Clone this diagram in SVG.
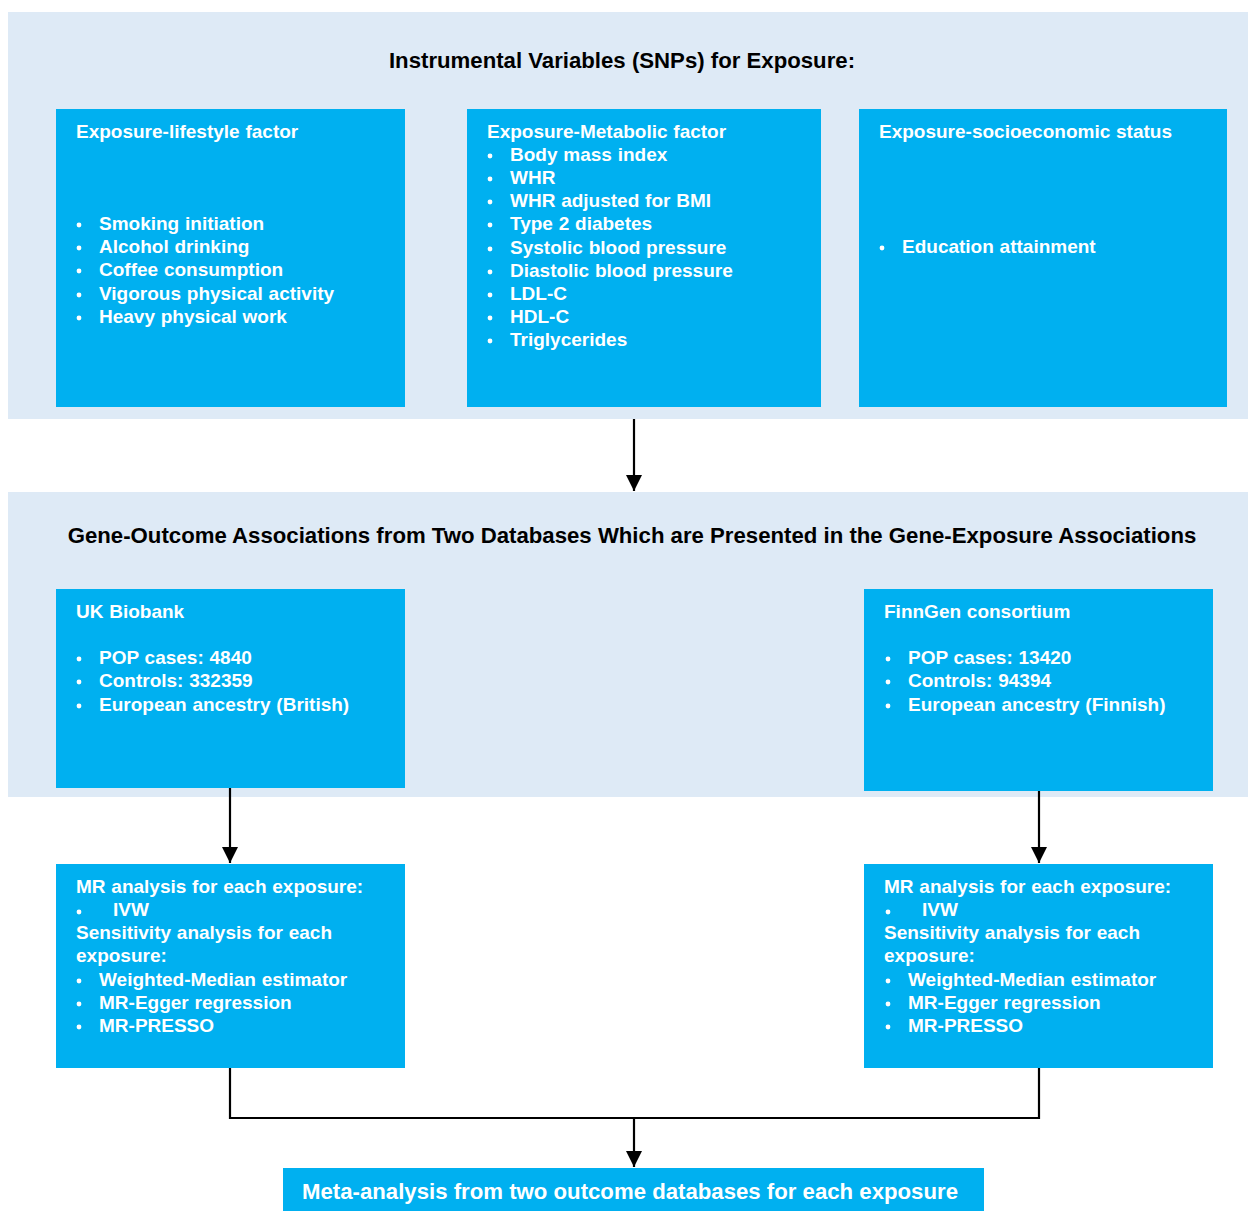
<svg xmlns="http://www.w3.org/2000/svg" width="1248" height="1211" viewBox="0 0 1248 1211">
<defs>
<style>
.panel{fill:#DEEAF6}
.box{fill:#00B0F0}
.title{font-family:"Liberation Sans",Arial,sans-serif;font-weight:bold;font-size:22.2px;fill:#000}
.t{font-family:"Liberation Sans",Arial,sans-serif;font-weight:bold;font-size:19px;fill:#fff;word-spacing:0.5px}
.meta{font-family:"Liberation Sans",Arial,sans-serif;font-weight:bold;font-size:22.2px;fill:#fff}
.b{fill:#fff}
.conn{stroke:#000;stroke-width:2.2;fill:none}
</style>
<marker id="ah" markerWidth="16" markerHeight="16" refX="16" refY="8" orient="auto" markerUnits="userSpaceOnUse">
<path d="M0,0 L16,8 L0,16 Z" fill="#000"/>
</marker>
</defs>
<rect width="1248" height="1211" fill="#fff"/>
<g id="panel-exposure">
<rect class="panel" x="8" y="12" width="1240" height="407"/>
<text class="title" x="622" y="68" text-anchor="middle">Instrumental Variables (SNPs) for Exposure:</text>
</g>
<g id="panel-outcome">
<rect class="panel" x="8" y="492" width="1240" height="305"/>
<text class="title" x="632" y="543" text-anchor="middle">Gene-Outcome Associations from Two Databases Which are Presented in the Gene-Exposure Associations</text>
</g>
<g id="node-lifestyle">
<rect class="box" x="56" y="109" width="349" height="298"/>
<text class="t" x="76" y="138">Exposure-lifestyle factor</text>
<g class="b"><circle cx="79" cy="225" r="2.4"/><circle cx="79" cy="248" r="2.4"/><circle cx="79" cy="271" r="2.4"/><circle cx="79" cy="295" r="2.4"/><circle cx="79" cy="318" r="2.4"/></g>
<text class="t" x="99" y="230">Smoking initiation</text>
<text class="t" x="99" y="253">Alcohol drinking</text>
<text class="t" x="99" y="276">Coffee consumption</text>
<text class="t" x="99" y="300">Vigorous physical activity</text>
<text class="t" x="99" y="323">Heavy physical work</text>
</g>
<g id="node-metabolic">
<rect class="box" x="467" y="109" width="354" height="298"/>
<text class="t" x="487" y="138">Exposure-Metabolic factor</text>
<g class="b"><circle cx="490" cy="156" r="2.4"/><circle cx="490" cy="179" r="2.4"/><circle cx="490" cy="202" r="2.4"/><circle cx="490" cy="225" r="2.4"/><circle cx="490" cy="249" r="2.4"/><circle cx="490" cy="272" r="2.4"/><circle cx="490" cy="295" r="2.4"/><circle cx="490" cy="318" r="2.4"/><circle cx="490" cy="341" r="2.4"/></g>
<text class="t" x="510" y="161">Body mass index</text>
<text class="t" x="510" y="184">WHR</text>
<text class="t" x="510" y="207">WHR adjusted for BMI</text>
<text class="t" x="510" y="230">Type 2 diabetes</text>
<text class="t" x="510" y="254">Systolic blood pressure</text>
<text class="t" x="510" y="277">Diastolic blood pressure</text>
<text class="t" x="510" y="300">LDL-C</text>
<text class="t" x="510" y="323">HDL-C</text>
<text class="t" x="510" y="346">Triglycerides</text>
</g>
<g id="node-socioeconomic">
<rect class="box" x="859" y="109" width="368" height="298"/>
<text class="t" x="879" y="138">Exposure-socioeconomic status</text>
<circle class="b" cx="882" cy="248" r="2.4"/>
<text class="t" x="902" y="253">Education attainment</text>
</g>
<g id="node-ukbiobank">
<rect class="box" x="56" y="589" width="349" height="199"/>
<text class="t" x="76" y="618">UK Biobank</text>
<g class="b"><circle cx="79" cy="659" r="2.4"/><circle cx="79" cy="682" r="2.4"/><circle cx="79" cy="706" r="2.4"/></g>
<text class="t" x="99" y="664">POP cases: 4840</text>
<text class="t" x="99" y="687">Controls: 332359</text>
<text class="t" x="99" y="711">European ancestry (British)</text>
</g>
<g id="node-finngen">
<rect class="box" x="864" y="589" width="349" height="202"/>
<text class="t" x="884" y="618">FinnGen consortium</text>
<g class="b"><circle cx="888" cy="659" r="2.4"/><circle cx="888" cy="682" r="2.4"/><circle cx="888" cy="706" r="2.4"/></g>
<text class="t" x="908" y="664">POP cases: 13420</text>
<text class="t" x="908" y="687">Controls: 94394</text>
<text class="t" x="908" y="711">European ancestry (Finnish)</text>
</g>
<g id="node-mr-uk">
<rect class="box" x="56" y="864" width="349" height="204"/>
<text class="t" x="76" y="893">MR analysis for each exposure:</text>
<g class="b"><circle cx="79" cy="912" r="2.4"/><circle cx="79" cy="981" r="2.4"/><circle cx="79" cy="1004" r="2.4"/><circle cx="79" cy="1027" r="2.4"/></g>
<text class="t" x="113" y="916">IVW</text>
<text class="t" x="76" y="939">Sensitivity analysis for each</text>
<text class="t" x="76" y="962">exposure:</text>
<text class="t" x="99" y="986">Weighted-Median estimator</text>
<text class="t" x="99" y="1009">MR-Egger regression</text>
<text class="t" x="99" y="1032">MR-PRESSO</text>
</g>
<g id="node-mr-finn">
<rect class="box" x="864" y="864" width="349" height="204"/>
<text class="t" x="884" y="893">MR analysis for each exposure:</text>
<g class="b"><circle cx="888" cy="912" r="2.4"/><circle cx="888" cy="981" r="2.4"/><circle cx="888" cy="1004" r="2.4"/><circle cx="888" cy="1027" r="2.4"/></g>
<text class="t" x="922" y="916">IVW</text>
<text class="t" x="884" y="939">Sensitivity analysis for each</text>
<text class="t" x="884" y="962">exposure:</text>
<text class="t" x="908" y="986">Weighted-Median estimator</text>
<text class="t" x="908" y="1009">MR-Egger regression</text>
<text class="t" x="908" y="1032">MR-PRESSO</text>
</g>
<g id="node-meta">
<rect class="box" x="283" y="1168" width="701" height="50"/>
<text class="meta" x="630" y="1199" text-anchor="middle">Meta-analysis from two outcome databases for each exposure</text>
</g>
<g id="connectors">
<line class="conn" x1="634" y1="419" x2="634" y2="491" marker-end="url(#ah)"/>
<line class="conn" x1="230" y1="788" x2="230" y2="863" marker-end="url(#ah)"/>
<line class="conn" x1="1039" y1="791" x2="1039" y2="863" marker-end="url(#ah)"/>
<polyline class="conn" points="230,1068 230,1118 1039,1118 1039,1068"/>
<line class="conn" x1="634" y1="1118" x2="634" y2="1167" marker-end="url(#ah)"/>
</g>
</svg>
